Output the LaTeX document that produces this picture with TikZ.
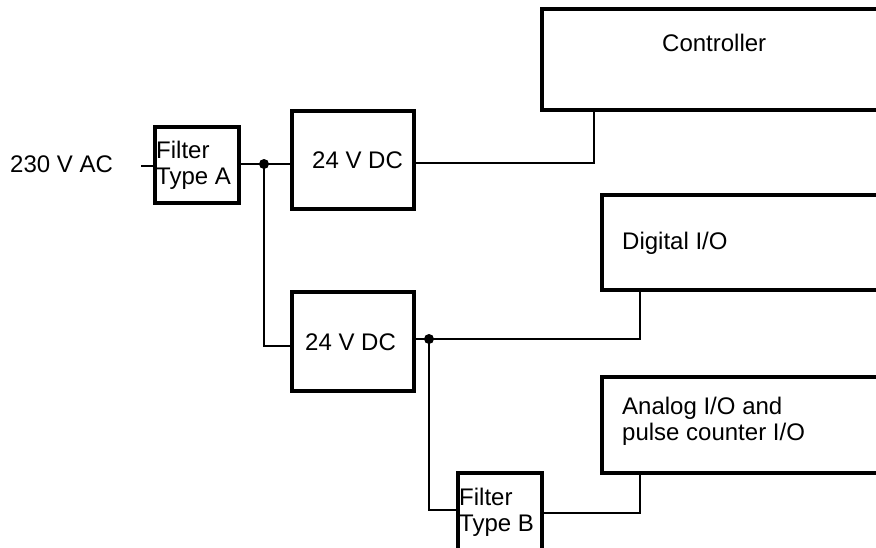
\documentclass[tikz,border=0pt]{standalone}
\usepackage{fontspec}
\setmainfont{Liberation Sans}
\begin{document}
\begin{tikzpicture}[x=1pt,y=-1pt,
  box/.style={draw,line width=3.2pt,rectangle,inner sep=0pt},
  wire/.style={line width=2.2pt},
  lbl/.style={inner sep=0pt,font=\fontsize{24}{27}\selectfont,align=left},
  dot/.style={circle,fill,inner sep=0pt,minimum size=10pt}]
\useasboundingbox (0,0) rectangle (876,547);
\clip (0,0) rectangle (876,547);
% boxes
\node[box,minimum width=84pt,minimum height=76pt] (fA) at (197,165) {};
\node[box,minimum width=122pt,minimum height=98pt] (p1) at (353,160) {};
\node[box,minimum width=122pt,minimum height=99pt] (p2) at (353,341.5) {};
\node[box,minimum width=368pt,minimum height=101pt] (ctrl) at (726,59.5) {};
\node[box,minimum width=308pt,minimum height=95pt] (dig) at (756,242.5) {};
\node[box,minimum width=308pt,minimum height=96pt] (ana) at (756,425) {};
\node[box,minimum width=84pt,minimum height=107pt] (fB) at (500,526.5) {};
% labels
\node[lbl,anchor=west] (tin) at (10,164) {230 V AC};
\node[lbl,anchor=west] (tfA) at (156,165) {Filter\\[-1pt]Type A};
\node[lbl,anchor=west] (tp1) at (312,160) {24 V DC};
\node[lbl,anchor=west] (tp2) at (305,342) {24 V DC};
\node[lbl,anchor=west] (tctrl) at (662,43) {Controller};
\node[lbl,anchor=west] (tdig) at (622,243) {Digital I/O};
\node[lbl,anchor=west] (tana) at (622,421) {Analog I/O and\\[-1pt]pulse counter I/O};
\node[lbl,anchor=west] (tfB) at (459,512) {Filter\\[-1pt]Type B};
% junctions
\node[dot] (j1) at (264,164) {};
\node[dot] (j3) at (429,339) {};
\coordinate (in) at (141,166);
\coordinate (j2) at (264,346);
\coordinate (c1) at (594,163);
\coordinate (c2) at (640,339);
\coordinate (c3) at (428,510);
\coordinate (c4) at (640,513);
% wires
\draw[wire] (in) -- (in -| fA.west);
\draw[wire] (j1 -| fA.east) -- (j1.center) -- (j1 -| p1.west);
\draw[wire] (j1.center) -- (j2) -- (j2 -| p2.west);
\draw[wire] (c1 -| p1.east) -- (c1) -- (c1 |- ctrl.south);
\draw[wire] (j3 -| p2.east) -- (j3.center) -- (c2) -- (c2 |- dig.south);
\draw[wire] (j3.center) -- (j3 |- c3) -- (c3 -| fB.west);
\draw[wire] (c4 -| fB.east) -- (c4) -- (c4 |- ana.south);
\end{tikzpicture}
\end{document}
